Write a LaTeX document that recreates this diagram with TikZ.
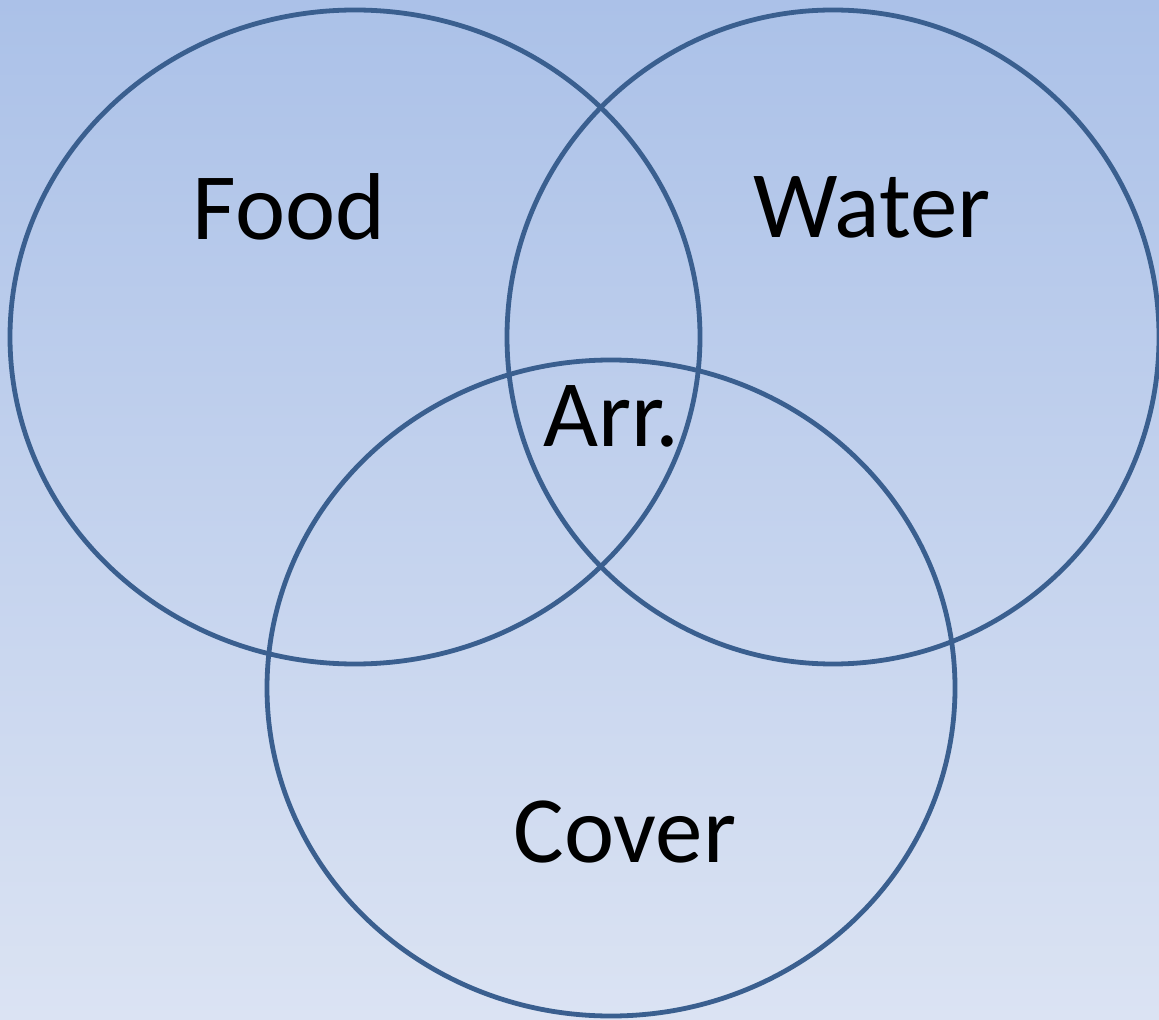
\documentclass[tikz,border=0pt]{standalone}
\usepackage{fontspec}
\setmainfont{Carlito}
\definecolor{bgtop}{HTML}{ABC1E8}
\definecolor{bgbot}{HTML}{DBE3F3}
\definecolor{vennline}{HTML}{3A5F8F}
\begin{document}
\begin{tikzpicture}[
  x=0.5pt, y=-0.5pt,
  venncircle/.style = {draw=vennline, line width=2.4pt},
  vennlbl/.style = {font=\fontsize{47.5}{53}\selectfont, text=black, inner sep=0pt}
]
  % background
  \useasboundingbox (0,0) rectangle (1159,1020);
  \shade[top color=bgtop, bottom color=bgbot] (0,0) rectangle (1159,1020);
  % circles
  \draw[venncircle] (355,337) ellipse [x radius=345, y radius=327];
  \draw[venncircle] (833,337) ellipse [x radius=326, y radius=327];
  \draw[venncircle] (611,688) ellipse [x radius=344, y radius=328];
  % labels
  \node[vennlbl] (food) at (289,207) {Food};
  \node[vennlbl] (water) at (872,207) {Water};
  \node[vennlbl] (arr) at (611,416) {Arr.};
  \node[vennlbl] (cover) at (625,832) {Cover};
\end{tikzpicture}
\end{document}
